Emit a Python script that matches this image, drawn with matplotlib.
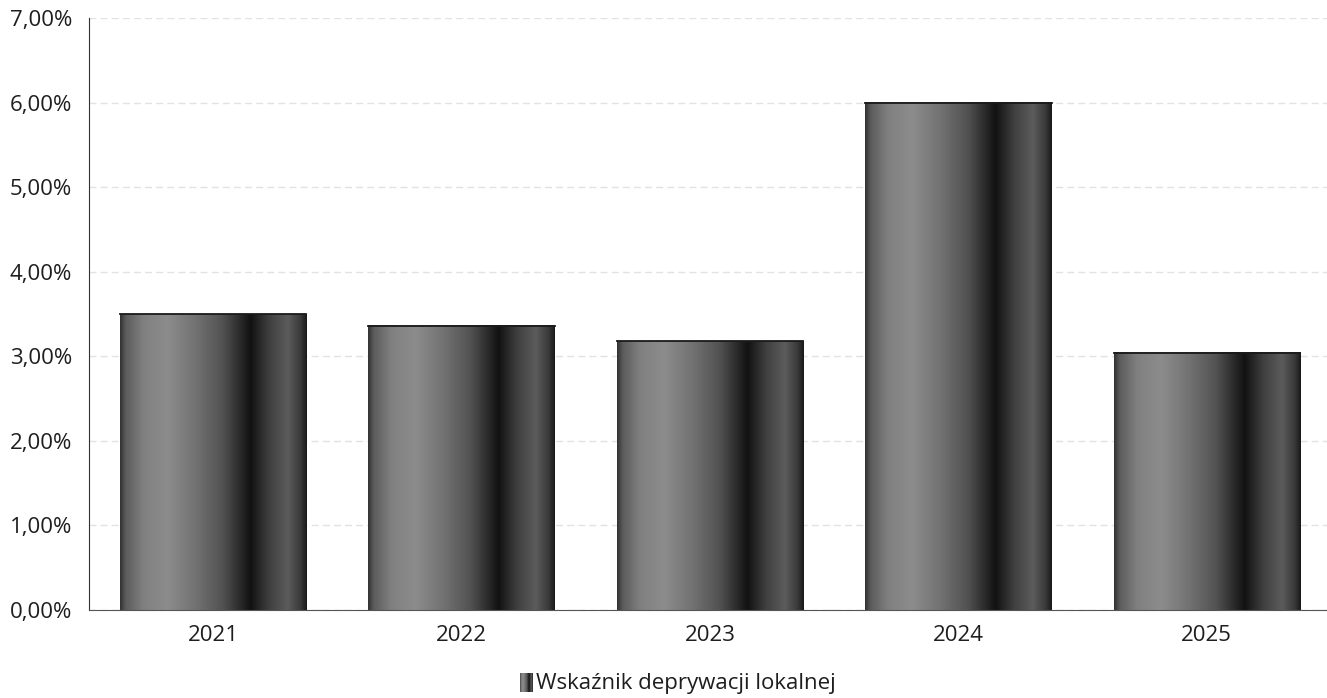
import matplotlib
matplotlib.use('Agg')
import matplotlib.pyplot as plt
import numpy as np
from matplotlib.colors import LinearSegmentedColormap

# Data
years = ['2021', '2022', '2023', '2024', '2025']
values = [3.50, 3.36, 3.18, 6.00, 3.04]
series_name = 'Wskaźnik deprywacji lokalnej'

plt.rcParams['font.family'] = ['Open Sans', 'DejaVu Sans']

# horizontal grey shading used for the bars
stops = [0.0, 0.03, 0.12, 0.25, 0.40, 0.55, 0.70, 0.80, 0.90, 0.97, 1.0]
greys = [0.20, 0.36, 0.50, 0.55, 0.45, 0.32, 0.07, 0.25, 0.36, 0.22, 0.10]
cmap = LinearSegmentedColormap.from_list(
    'bar', [(s, (g, g, g)) for s, g in zip(stops, greys)])
grad = np.linspace(0, 1, 256).reshape(1, -1)

fig = plt.figure(figsize=(13.27, 6.98), dpi=100)
ax = fig.add_axes([89 / 1327, 88 / 698, 1242 / 1327, 592 / 698])

x = np.arange(len(years))
width = 0.75
bars = ax.bar(x, values, width, color='none', edgecolor='none', zorder=2)
for b in bars:
    x0, y0 = b.get_x(), b.get_y()
    ax.imshow(grad, cmap=cmap, aspect='auto', zorder=2,
              extent=(x0, x0 + b.get_width(), y0, y0 + b.get_height()))
    ax.plot([x0, x0 + b.get_width()], [b.get_height()] * 2,
            color='#1a1a1a', lw=1.3, zorder=3)

ax.set_xlim(-0.5, len(years) - 0.5)
ax.set_ylim(0, 7)
ax.set_yticks(np.arange(0, 8, 1))
ax.set_yticklabels([f'{v:.2f}%'.replace('.', ',') for v in range(8)])
ax.set_xticks(x)
ax.set_xticklabels(years)
ax.tick_params(axis='both', length=0, labelsize=16, colors='#1e1e1e')
ax.tick_params(axis='x', pad=11)
ax.tick_params(axis='y', pad=12)

ax.yaxis.grid(True, color='#e2e2e2', linestyle=(0, (5, 3)), linewidth=1)
ax.set_axisbelow(True)
for s in ['top', 'right']:
    ax.spines[s].set_visible(False)
ax.spines['left'].set_color('#333333')
ax.spines['bottom'].set_color('#555555')

# legend: small shaded square plus label
lax = fig.add_axes([520 / 1327, 6 / 698, 13 / 1327, 19 / 698])
lax.imshow(grad, cmap=cmap, aspect='auto')
lax.axis('off')
fig.text(536 / 1327, 15 / 698, series_name, fontsize=16,
         va='center', ha='left', color='#1e1e1e')

fig.savefig('out.png', dpi=100)
